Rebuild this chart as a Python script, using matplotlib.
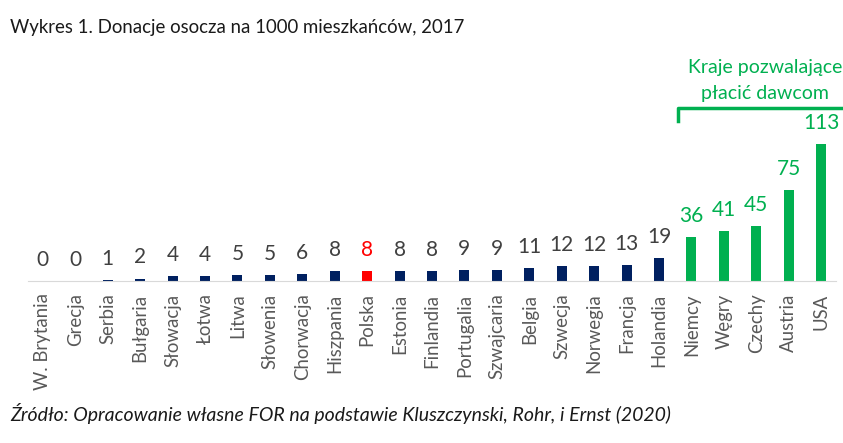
import matplotlib
matplotlib.use('Agg')
import matplotlib.pyplot as plt

plt.rcParams['font.family'] = ['Lato', 'DejaVu Sans']

countries = ['W. Brytania', 'Grecja', 'Serbia', 'Bułgaria', 'Słowacja', 'Łotwa', 'Litwa',
             'Słowenia', 'Chorwacja', 'Hiszpania', 'Polska', 'Estonia', 'Finlandia',
             'Portugalia', 'Szwajcaria', 'Belgia', 'Szwecja', 'Norwegia', 'Francja',
             'Holandia', 'Niemcy', 'Węgry', 'Czechy', 'Austria', 'USA']
donations = [0, 0, 1, 2, 4, 4, 5, 5, 6, 8, 8, 8, 8, 9, 9, 11, 12, 12, 13, 19,
             36, 41, 45, 75, 113]
paid = ['Niemcy', 'Węgry', 'Czechy', 'Austria', 'USA']
highlight = 'Polska'

NAVY = '#002060'
GREEN = '#00B050'
RED = '#FF0000'
GREY = '#404040'

colors = []
label_colors = []
for c in countries:
    if c in paid:
        colors.append(GREEN)
        label_colors.append(GREEN)
    elif c == highlight:
        colors.append(RED)
        label_colors.append(RED)
    else:
        colors.append(NAVY)
        label_colors.append(GREY)

fig = plt.figure(figsize=(8.43, 4.43), dpi=100)
ax = fig.add_axes([28 / 843, 162 / 443, 808 / 843, 145.5 / 443])

x = list(range(len(countries)))
ax.bar(x, donations, width=0.31, color=colors)
for xi, v, lc in zip(x, donations, label_colors):
    ax.annotate(str(v), (xi, v), xytext=(0, 8), textcoords='offset points',
                ha='center', va='bottom', fontsize=15, color=lc)

ax.set_xlim(-0.46, 24.46)
ax.set_ylim(0, 120)
ax.set_xticks(x)
ax.set_xticklabels(countries, rotation=90, fontsize=13.4, color='#595959')
ax.tick_params(axis='x', length=0, pad=9)
ax.set_yticks([])
for s in ['top', 'right', 'left']:
    ax.spines[s].set_visible(False)
ax.spines['bottom'].set_color('#D9D9D9')

fig.text(10 / 843, 1 - 28 / 443, 'Wykres 1. Donacje osocza na 1000 mieszkańców, 2017',
         fontsize=13.4, color='#1a1a1a', va='center', ha='left')
fig.text(765 / 843, 1 - 67 / 443, 'Kraje pozwalające', fontsize=14, color=GREEN,
         ha='center', va='center')
fig.text(765 / 843, 1 - 93 / 443, 'płacić dawcom', fontsize=14, color=GREEN,
         ha='center', va='center')
fig.add_artist(plt.Line2D([678 / 843, 678 / 843, 1.0], [1 - 121 / 443, 1 - 108 / 443, 1 - 108 / 443],
                          color=GREEN, lw=2.5, transform=fig.transFigure))
fig.text(10 / 843, 1 - 413 / 443,
         'Źródło: Opracowanie własne FOR na podstawie Kluszczynski, Rohr, i Ernst (2020)',
         fontsize=14, style='italic', color='#1a1a1a', va='center', ha='left')

fig.savefig('out.png', dpi=100)
